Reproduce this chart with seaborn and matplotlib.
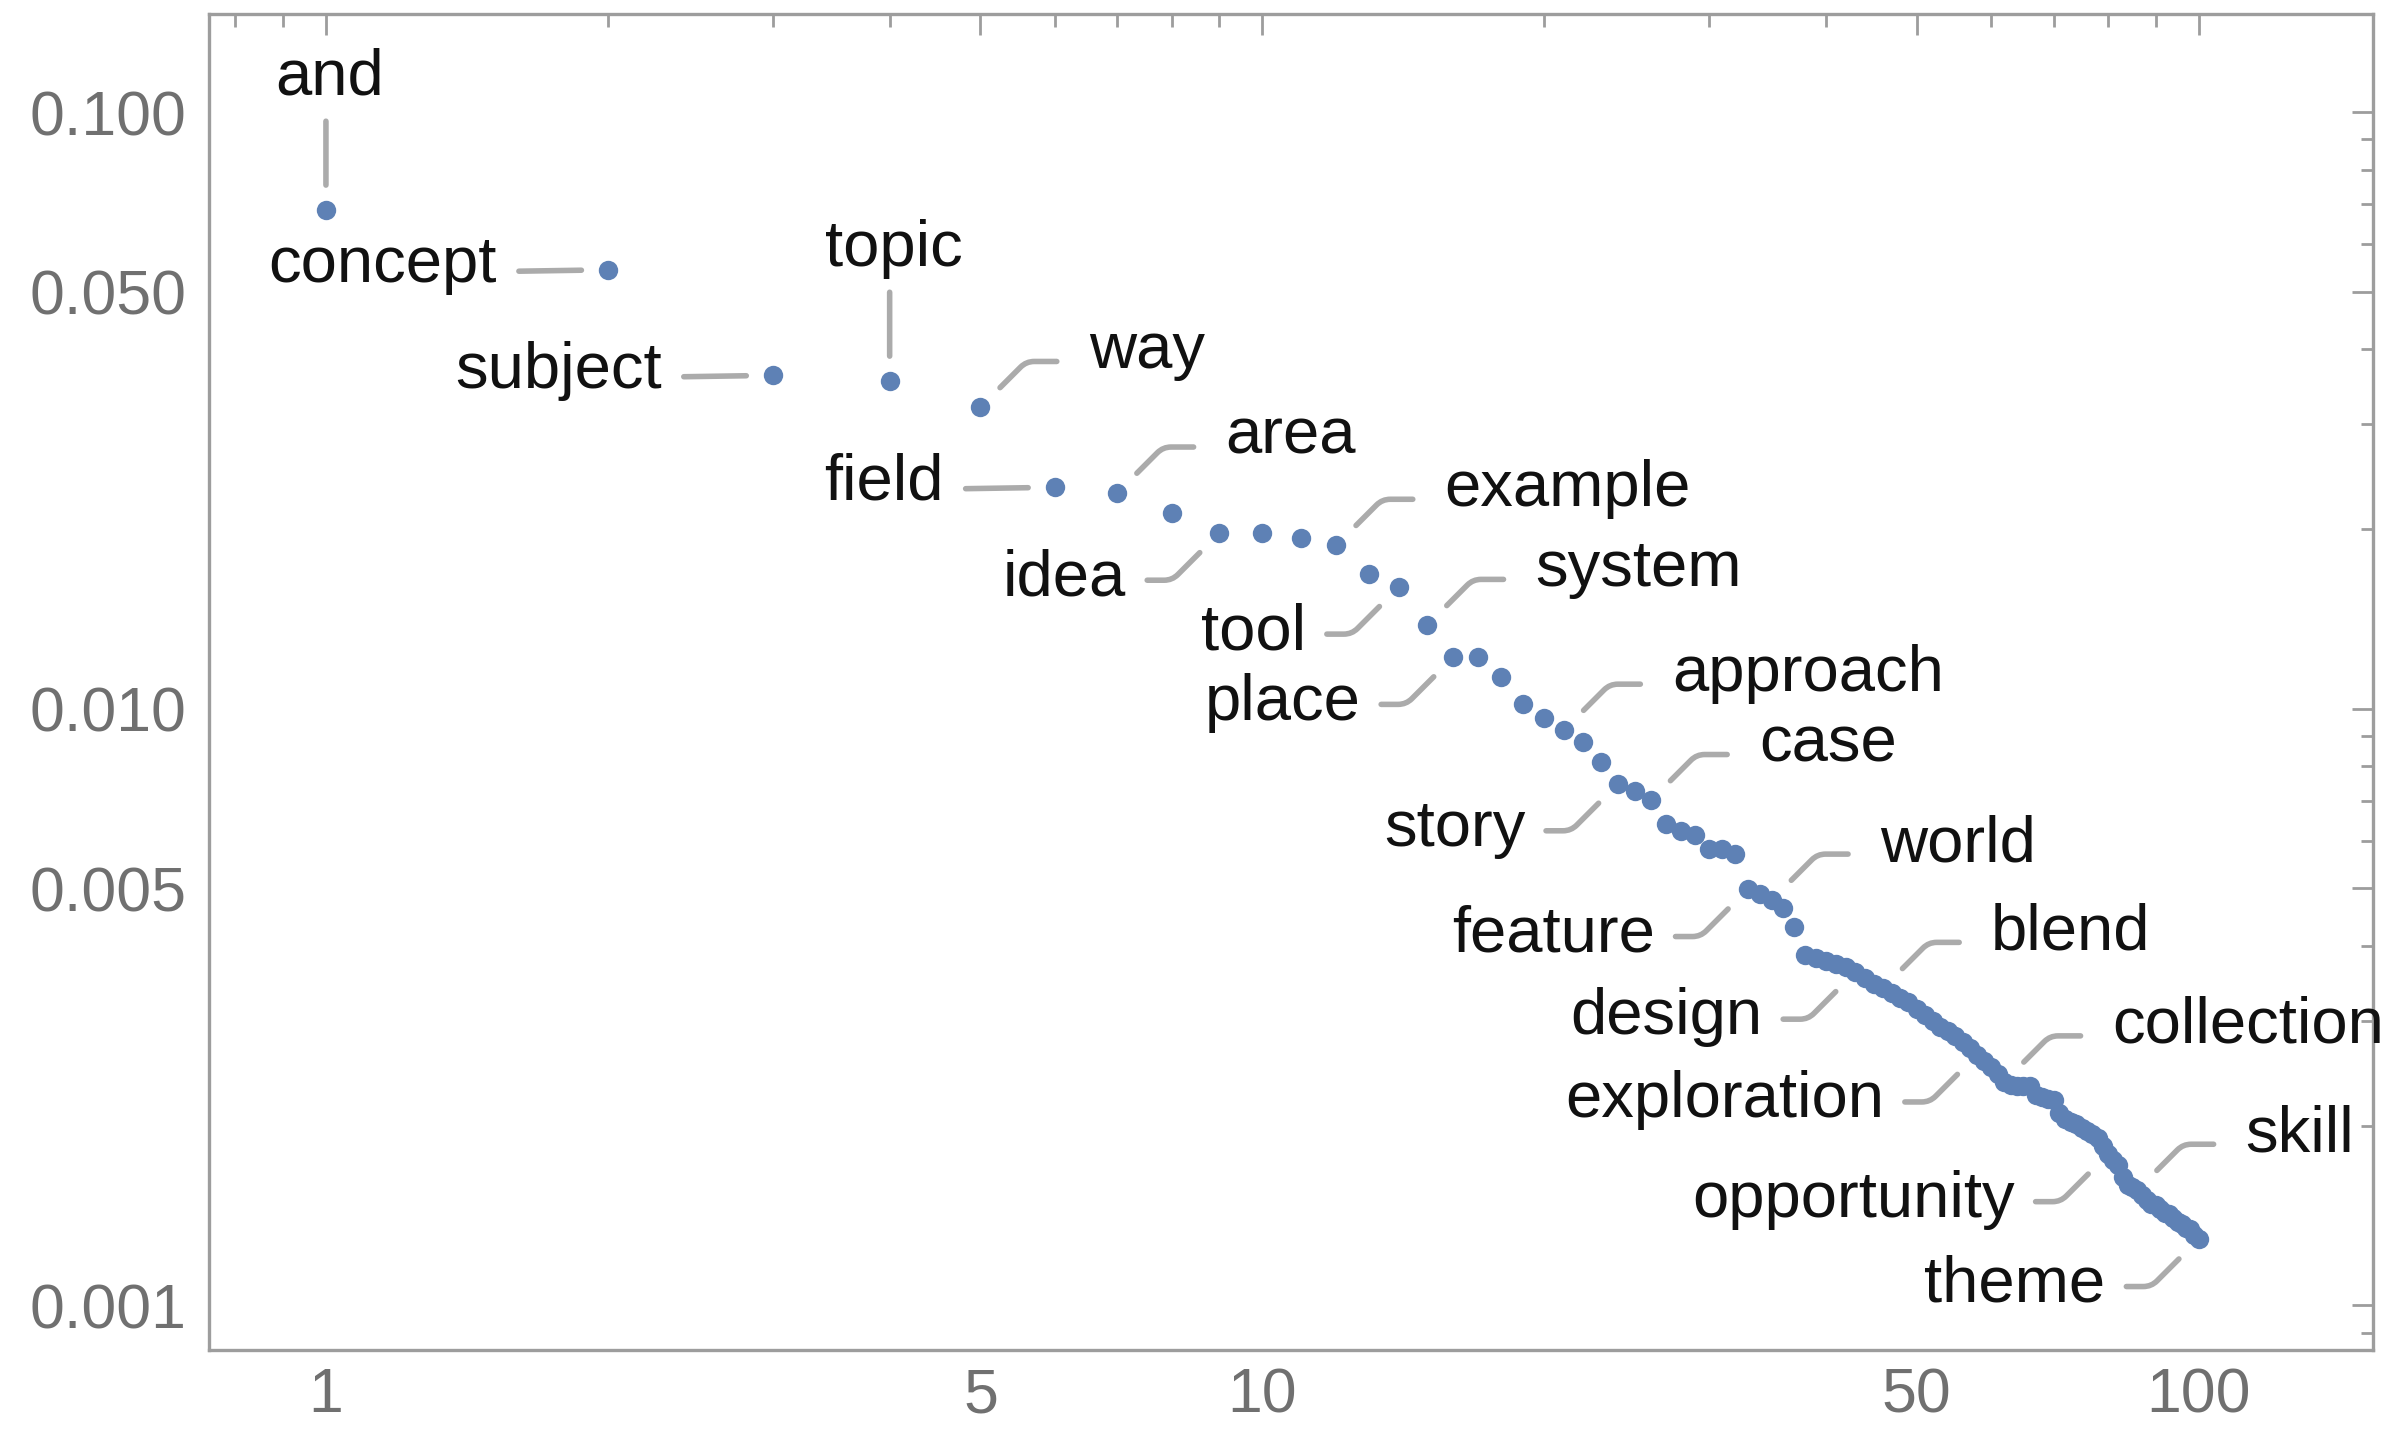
import numpy as np
import pandas as pd
import seaborn as sns
import matplotlib.pyplot as plt
import matplotlib.ticker as mtick

sns.set_style('white')
plt.rcParams['font.family'] = ['Liberation Sans', 'DejaVu Sans']

# word rank vs relative frequency
ranks = list(range(1, 101))
freqs = [0.0685, 0.0544, 0.0362, 0.0354, 0.0320, 0.0235, 0.0230, 0.0213, 0.0197, 0.0197,
         0.0193, 0.0188, 0.0168, 0.0160, 0.0138, 0.0122, 0.0122, 0.0113, 0.0102, 0.00965,
         0.00921, 0.00878, 0.00813, 0.00749, 0.00727, 0.00702, 0.00642, 0.00623, 0.00613, 0.00581,
         0.00581, 0.00571, 0.00498, 0.00489, 0.00478, 0.00464, 0.00430, 0.00387, 0.00382, 0.00377,
         0.00373, 0.00369, 0.00362, 0.00354, 0.00346, 0.00340, 0.00334, 0.00328, 0.00322, 0.00314,
         0.00307, 0.00300, 0.00293, 0.00288, 0.00283, 0.00276, 0.00270, 0.00263, 0.00257, 0.00251,
         0.00244, 0.00237, 0.00234, 0.00233, 0.00233, 0.00233, 0.00225, 0.00223, 0.00222, 0.00221,
         0.00210, 0.00205, 0.00203, 0.00201, 0.00198, 0.00196, 0.00194, 0.00191, 0.00185, 0.00179,
         0.00175, 0.00172, 0.00164, 0.00159, 0.00158, 0.00156, 0.00153, 0.00150, 0.00148, 0.00147,
         0.00145, 0.00143, 0.00142, 0.00140, 0.00138, 0.00137, 0.00135, 0.00134, 0.00131, 0.00129]

label_words = ['and', 'concept', 'subject', 'topic', 'way', 'field', 'area', 'idea',
               'example', 'tool', 'system', 'place', 'approach', 'story', 'case', 'feature',
               'world', 'design', 'blend', 'exploration', 'collection', 'opportunity',
               'skill', 'theme']
label_ranks = [1, 2, 3, 4, 5, 6, 7, 9, 12, 14, 15, 16, 21, 24, 26, 33, 35, 43, 46, 58,
               62, 80, 86, 100]
label_sides = ['up', 'left', 'left', 'up', 'ur', 'left', 'ur', 'dl', 'ur', 'dl', 'ur', 'dl',
               'ur', 'dl', 'ur', 'dl', 'ur', 'dl', 'ur', 'dl', 'ur', 'dl', 'ur', 'dl']

x_major = [1, 5, 10, 50, 100]
x_minor = [0.8, 0.9, 2, 3, 4, 6, 7, 8, 9, 20, 30, 40, 60, 70, 80, 90]
y_major = [0.1, 0.05, 0.01, 0.005, 0.001]
y_minor = [0.09, 0.08, 0.07, 0.06, 0.04, 0.03, 0.02, 0.009, 0.008, 0.007, 0.006,
           0.004, 0.003, 0.002, 0.0009]

df = pd.DataFrame({'rank': ranks, 'freq': freqs})

# callout geometry, in points relative to the data point
callout = {
    'up':   dict(end=(0, 64), text=(3, 83), ha='center', conn='arc3', shrink=18),
    'left': dict(end=(-64, -1), text=(-80, -9), ha='right', conn='arc3', shrink=19),
    'ur':   dict(end=(55, 33), text=(78, 28), ha='left',
                 conn='angle,angleA=0,angleB=45,rad=8', shrink=20),
    'dl':   dict(end=(-52, -34), text=(-67, -45), ha='right',
                 conn='angle,angleA=0,angleB=45,rad=8', shrink=20),
}

frame_col = '#9d9d9d'
blue = '#5E81B5'

fig = plt.figure(figsize=(23.99, 14.29), dpi=100)
ax = fig.add_axes([0.0871, 0.0556, 0.9021, 0.9346])

sns.scatterplot(data=df, x='rank', y='freq', ax=ax, s=195, color=blue,
                linewidth=0, zorder=3, legend=False)

ax.set_xscale('log')
ax.set_yscale('log')
ax.set_xlim(0.75, 153.6)
ax.set_ylim(0.000843, 0.146)

for word, r, side in zip(label_words, label_ranks, label_sides):
    st = callout[side]
    f = freqs[r - 1]
    ax.annotate('', xy=(r, f), xytext=st['end'], textcoords='offset points',
                arrowprops=dict(arrowstyle='-', color='#ababab', lw=4.0,
                                shrinkA=0, shrinkB=st['shrink'],
                                connectionstyle=st['conn'], capstyle='round'),
                zorder=2)
    ax.annotate(word, xy=(r, f), xytext=st['text'], textcoords='offset points',
                ha=st['ha'], va='baseline', fontsize=47, color='#111111', zorder=4)

ax.xaxis.set_major_locator(mtick.FixedLocator(x_major))
ax.xaxis.set_minor_locator(mtick.FixedLocator(x_minor))
ax.xaxis.set_major_formatter(mtick.FixedFormatter([str(v) for v in x_major]))
ax.xaxis.set_minor_formatter(mtick.NullFormatter())
ax.yaxis.set_major_locator(mtick.FixedLocator(y_major))
ax.yaxis.set_minor_locator(mtick.FixedLocator(y_minor))
ax.yaxis.set_major_formatter(mtick.FormatStrFormatter('%.3f'))
ax.yaxis.set_minor_formatter(mtick.NullFormatter())

ax.tick_params(which='both', direction='in', top=True, right=True,
               color=frame_col, width=2, labelcolor='#707070', labelsize=45)
ax.tick_params(which='major', length=15)
ax.tick_params(which='minor', length=9)
ax.tick_params(axis='x', pad=12)
ax.tick_params(axis='y', pad=16)

for sp in ax.spines.values():
    sp.set_color(frame_col)
    sp.set_linewidth(2.4)

ax.set_xlabel('')
ax.set_ylabel('')

fig.savefig('out.png', dpi=100)
